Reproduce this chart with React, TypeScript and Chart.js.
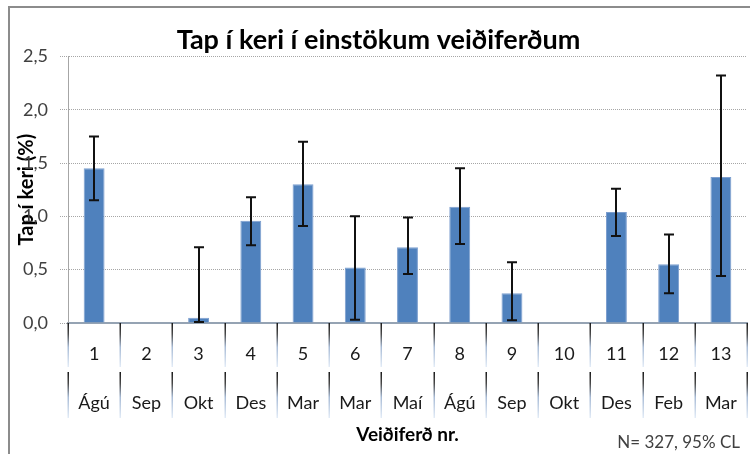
import { useEffect, useRef } from 'react';
import { Chart, registerables } from 'chart.js';

Chart.register(...registerables);

const tripNumbers = ['1', '2', '3', '4', '5', '6', '7', '8', '9', '10', '11', '12', '13'];
const tripMonths = ['Ágú', 'Sep', 'Okt', 'Des', 'Mar', 'Mar', 'Maí', 'Ágú', 'Sep', 'Okt', 'Des', 'Feb', 'Mar'];
const lossValues = [1.45, 0, 0.05, 0.96, 1.3, 0.52, 0.71, 1.09, 0.28, 0, 1.04, 0.55, 1.37];
const ciLow: (number | null)[] = [1.15, null, 0.01, 0.73, 0.91, 0.03, 0.46, 0.74, 0.025, null, 0.815, 0.28, 0.44];
const ciHigh: (number | null)[] = [1.75, null, 0.71, 1.18, 1.7, 1.0, 0.99, 1.45, 0.57, null, 1.26, 0.83, 2.32];

const titleText = 'Tap í keri í einstökum veiðiferðum';
const yTitle = 'Tap í keri (%)';
const xTitle = 'Veiðiferð nr.';
const footnote = 'N= 327, 95% CL';

const FONT = 'Lato, "Noto Sans", sans-serif';

const framePlugin = {
  id: 'frame',
  beforeDraw(chart: any) {
    const ctx = chart.ctx;
    ctx.save();
    ctx.fillStyle = '#ffffff';
    ctx.fillRect(0, 0, chart.width, chart.height);
    ctx.strokeStyle = '#8c8c8c';
    ctx.lineWidth = 2;
    ctx.beginPath();
    ctx.moveTo(9, chart.height);
    ctx.lineTo(9, 7);
    ctx.lineTo(chart.width, 7);
    ctx.stroke();
    ctx.restore();
  },
};

const separatorPlugin = {
  id: 'separators',
  afterDraw(chart: any) {
    const ctx = chart.ctx;
    const xs = chart.scales.x;
    const w = xs.getPixelForValue(1) - xs.getPixelForValue(0);
    const top = xs.top;
    const segs = [
      [top, top + 44],
      [top + 49, top + 95],
    ];
    ctx.save();
    ctx.lineWidth = 1.5;
    for (let i = 0; i <= tripNumbers.length; i++) {
      const x = Math.round(xs.getPixelForValue(i) - w / 2) + 0.25;
      for (const [a, b] of segs) {
        const g = ctx.createLinearGradient(0, a, 0, b);
        g.addColorStop(0, '#1a1a1a');
        g.addColorStop(0.25, '#4a4a4a');
        g.addColorStop(0.55, '#a9bcd6');
        g.addColorStop(1, '#e3ecf7');
        ctx.strokeStyle = g;
        ctx.beginPath();
        ctx.moveTo(x, a);
        ctx.lineTo(x, b);
        ctx.stroke();
      }
    }
    ctx.restore();
  },
};

const errorBarPlugin = {
  id: 'errorBars',
  afterDatasetsDraw(chart: any) {
    const ctx = chart.ctx;
    const ys = chart.scales.y;
    const meta = chart.getDatasetMeta(0);
    ctx.save();
    ctx.strokeStyle = '#111111';
    ctx.lineWidth = 2;
    meta.data.forEach((bar: any, i: number) => {
      const lo = ciLow[i];
      const hi = ciHigh[i];
      if (lo === null || hi === null) return;
      const x = Math.round(bar.x);
      const yl = ys.getPixelForValue(lo);
      const yh = ys.getPixelForValue(hi);
      ctx.beginPath();
      ctx.moveTo(x, yl);
      ctx.lineTo(x, yh);
      ctx.moveTo(x - 5, yh);
      ctx.lineTo(x + 5, yh);
      ctx.moveTo(x - 5, yl);
      ctx.lineTo(x + 5, yl);
      ctx.stroke();
    });
    ctx.restore();
  },
};

const footnotePlugin = {
  id: 'footnote',
  afterDraw(chart: any) {
    const ctx = chart.ctx;
    ctx.save();
    ctx.font = '17px ' + FONT;
    ctx.fillStyle = '#404040';
    ctx.textAlign = 'right';
    ctx.textBaseline = 'middle';
    ctx.fillText(footnote, 740, 443);
    ctx.restore();
  },
};

export default function App() {
  const canvasRef = useRef<HTMLCanvasElement | null>(null);

  useEffect(() => {
    if (!canvasRef.current) return;
    const chart = new Chart(canvasRef.current, {
      type: 'bar',
      data: {
        labels: tripNumbers.map((n, i) => [n, tripMonths[i]]),
        datasets: [
          {
            data: lossValues,
            backgroundColor: '#4f81bd',
            borderColor: '#7d9fcf',
            borderWidth: 1,
            barPercentage: 0.4,
            categoryPercentage: 1,
          },
        ],
      },
      options: {
        animation: false,
        responsive: false,
        devicePixelRatio: 1,
        layout: { padding: { left: 10, right: 3, top: 10, bottom: 0 } },
        plugins: {
          legend: { display: false },
          tooltip: { enabled: false },
          title: {
            display: true,
            text: titleText,
            color: '#000000',
            font: { family: FONT, size: 27, weight: 'bold' },
            padding: { top: 14, bottom: 0 },
          },
        },
        scales: {
          x: {
            type: 'category',
            offset: true,
            grid: { display: false },
            border: { display: true, color: '#95a3b3', width: 2 },
            ticks: {
              color: '#1a1a1a',
              font: { family: FONT, size: 18, lineHeight: 2.72 },
              padding: -1,
              autoSkip: false,
              maxRotation: 0,
            },
            title: {
              display: true,
              text: xTitle,
              color: '#000000',
              font: { family: FONT, size: 19, weight: 'bold' },
              padding: { top: 0, bottom: 8 },
            },
            afterFit(scale: any) {
              scale.height = 131;
            },
          },
          y: {
            min: 0,
            max: 2.5,
            ticks: {
              stepSize: 0.5,
              color: '#404040',
              font: { family: FONT, size: 18 },
              padding: 12,
              callback: (v: any) => Number(v).toFixed(1).replace('.', ','),
            },
            grid: { color: '#a6a6a6', tickLength: 8, tickBorderDash: [1, 1], tickColor: '#a6a6a6' },
            border: { display: true, color: '#a6a6a6', width: 1, dash: [1, 1] },
            title: {
              display: true,
              text: yTitle,
              color: '#000000',
              font: { family: FONT, size: 20, weight: 'bold' },
              padding: { top: 5, bottom: 0 },
            },
            afterFit(scale: any) {
              scale.width = 58;
            },
          },
        },
      },
      plugins: [framePlugin, errorBarPlugin, separatorPlugin, footnotePlugin],
    } as any);
    return () => chart.destroy();
  }, []);

  return (
    <div style={{ position: 'absolute', left: 0, top: 0, width: 750, height: 454 }}>
      <canvas ref={canvasRef} width={750} height={454} style={{ display: 'block' }} />
    </div>
  );
}
